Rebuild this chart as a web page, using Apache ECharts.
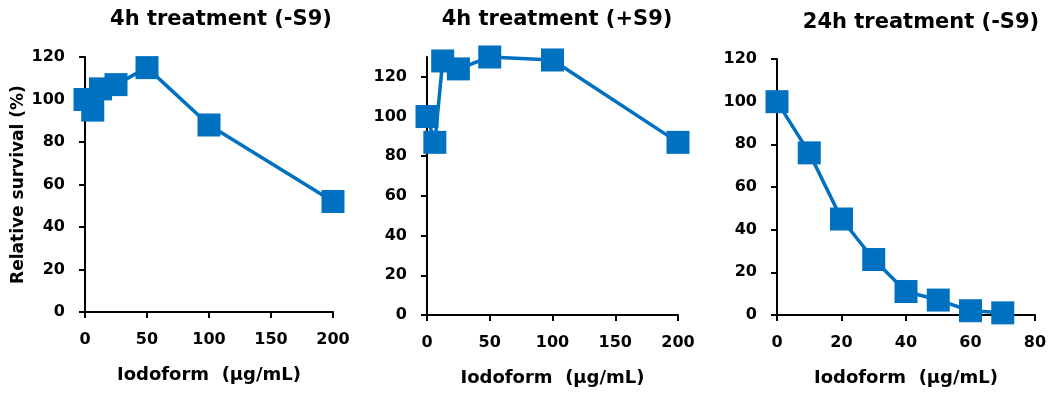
<!DOCTYPE html>
<html>
<head>
<meta charset="utf-8">
<script src="https://cdn.jsdelivr.net/npm/echarts@6/dist/echarts.min.js"></script>
<style>
  html, body { margin: 0; padding: 0; background: #fff; }
  #chart { width: 1052px; height: 394px; }
</style>
</head>
<body>
<div id="chart"></div>
<script>
// Relative survival (%) against iodoform concentration (µg/mL)
const titles = ['4h treatment (-S9)', '4h treatment (+S9)', '24h treatment (-S9)'];
const xName = 'Iodoform  (\u03bcg/mL)';
const yName = 'Relative survival (%)';

const dose4hMinus = [0, 6.25, 12.5, 25, 50, 100, 200];
const surv4hMinus = [100, 95, 105, 107, 115, 88, 52];

const dose4hPlus = [0, 6.25, 12.5, 25, 50, 100, 200];
const surv4hPlus = [100, 87, 128, 124, 130, 128.5, 87];

const dose24hMinus = [0, 10, 20, 30, 40, 50, 60, 70];
const surv24hMinus = [100, 76, 45, 26, 11, 7, 2, 1];

const yTicks = [0, 20, 40, 60, 80, 100, 120];

const FONT = '"DejaVu Sans", Verdana, sans-serif';
const BLUE = '#0070C0';

const grids = [
  { left: 85, top: 57, width: 248, height: 255 },
  { left: 427, top: 57, width: 251, height: 258 },
  { left: 777, top: 59, width: 258, height: 256 }
];
const xRanges = [[0, 200, 50], [0, 200, 50], [0, 80, 20]];
const yMax = [120, 130, 120];
const seriesData = [
  [dose4hMinus, surv4hMinus],
  [dose4hPlus, surv4hPlus],
  [dose24hMinus, surv24hMinus]
];
const titlePos = [[221, 20], [557, 20], [921, 23]];

const axisLine = { show: true, lineStyle: { color: '#000', width: 2 } };
const axisTick = { show: true, inside: false, length: 6, lineStyle: { color: '#000', width: 2 } };
const labelStyle = { color: '#000', fontFamily: FONT, fontWeight: 'bold', fontSize: 16 };

const option = {
  animation: false,
  backgroundColor: '#fff',
  grid: grids.map(g => Object.assign({ containLabel: false }, g)),
  xAxis: grids.map((g, i) => ({
    type: 'value',
    gridIndex: i,
    min: xRanges[i][0],
    max: xRanges[i][1],
    interval: xRanges[i][2],
    axisLine, axisTick,
    splitLine: { show: false },
    axisLabel: Object.assign({ margin: 20 }, labelStyle),
    name: xName,
    nameLocation: 'middle',
    nameGap: 54,
    nameTextStyle: { color: '#000', fontFamily: FONT, fontWeight: 'bold', fontSize: 18 }
  })),
  yAxis: grids.map((g, i) => ({
    type: 'value',
    gridIndex: i,
    min: 0,
    max: yMax[i],
    interval: 20,
    axisLine,
    axisTick: Object.assign({}, axisTick, { customValues: yTicks }),
    splitLine: { show: false },
    axisLabel: Object.assign({ margin: 20, customValues: yTicks }, labelStyle),
    name: i === 0 ? yName : '',
    nameLocation: 'middle',
    nameGap: 58,
    nameTextStyle: { color: '#000', fontFamily: FONT, fontWeight: 'bold', fontSize: 17 }
  })),
  series: seriesData.map((d, i) => ({
    type: 'line',
    xAxisIndex: i,
    yAxisIndex: i,
    data: d[0].map((x, k) => [x, d[1][k]]),
    symbol: 'rect',
    symbolSize: 23,
    showAllSymbol: true,
    clip: false,
    lineStyle: { color: BLUE, width: 3.5 },
    itemStyle: { color: BLUE },
    z: 3
  })),
  graphic: titles.map((t, i) => ({
    type: 'text',
    x: titlePos[i][0],
    y: titlePos[i][1],
    style: {
      text: t,
      fill: '#000',
      font: 'bold 21px ' + FONT,
      textAlign: 'center',
      textVerticalAlign: 'middle'
    }
  }))
};

const chart = echarts.init(document.getElementById('chart'), null, { renderer: 'canvas' });
chart.setOption(option);
</script>
</body>
</html>
